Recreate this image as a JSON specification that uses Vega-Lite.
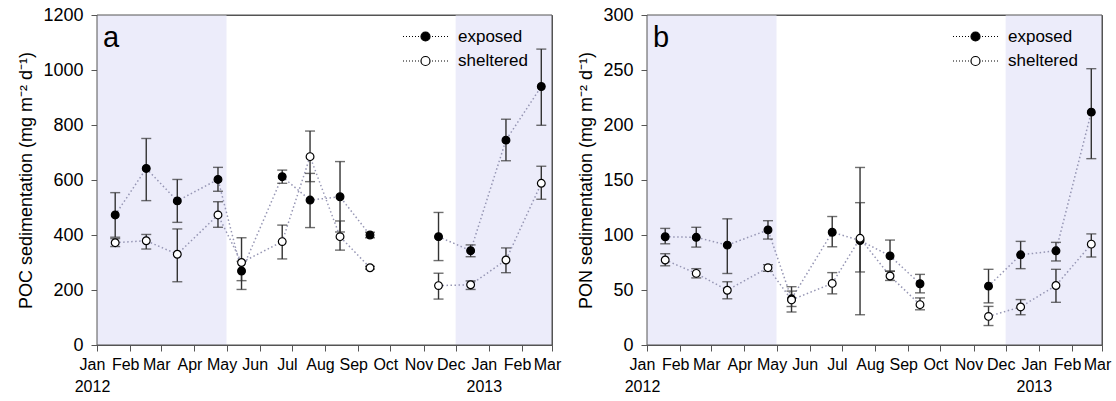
{
  "$schema": "https://vega.github.io/schema/vega-lite/v6.json",
  "padding": {"left": 17, "top": 5, "right": 0, "bottom": 0},
  "background": "white",
  "config": {
    "font": "Liberation Sans",
    "view": {"stroke": "#555555", "strokeWidth": 1},
    "axis": {"grid": false, "domainColor": "#555555", "tickColor": "#555555", "labelColor": "black", "titleColor": "black", "tickSize": 6, "domainWidth": 1, "tickWidth": 1},
    "title": {"font": "Liberation Sans", "color": "black", "fontWeight": "normal"}
  },
  "datasets": {
    "shade": [
      {"from": "2012-01-01", "to": "2012-05-01"},
      {"from": "2012-12-01", "to": "2013-03-01"}
    ],
    "frame": [{}],
    "pts": [
      {"panel": "a", "site": "exposed", "seg": 1, "date": "2012-01-18", "value": 473, "lo": 392, "hi": 554},
      {"panel": "a", "site": "exposed", "seg": 1, "date": "2012-02-16", "value": 642, "lo": 525, "hi": 751},
      {"panel": "a", "site": "exposed", "seg": 1, "date": "2012-03-16", "value": 524, "lo": 446, "hi": 602},
      {"panel": "a", "site": "exposed", "seg": 1, "date": "2012-04-23", "value": 602, "lo": 559, "hi": 646},
      {"panel": "a", "site": "exposed", "seg": 1, "date": "2012-05-15", "value": 269, "lo": 234, "hi": 304},
      {"panel": "a", "site": "exposed", "seg": 1, "date": "2012-06-22", "value": 612, "lo": 588, "hi": 636},
      {"panel": "a", "site": "exposed", "seg": 1, "date": "2012-07-18", "value": 527, "lo": 427, "hi": 624},
      {"panel": "a", "site": "exposed", "seg": 1, "date": "2012-08-15", "value": 539, "lo": 411, "hi": 667},
      {"panel": "a", "site": "exposed", "seg": 1, "date": "2012-09-12", "value": 400, "lo": 390, "hi": 410},
      {"panel": "a", "site": "exposed", "seg": 2, "date": "2012-11-15", "value": 394, "lo": 307, "hi": 482},
      {"panel": "a", "site": "exposed", "seg": 2, "date": "2012-12-15", "value": 343, "lo": 321, "hi": 364},
      {"panel": "a", "site": "exposed", "seg": 2, "date": "2013-01-17", "value": 745, "lo": 670, "hi": 821},
      {"panel": "a", "site": "exposed", "seg": 2, "date": "2013-02-19", "value": 940, "lo": 799, "hi": 1076},
      {"panel": "a", "site": "sheltered", "seg": 1, "date": "2012-01-18", "value": 372, "lo": 358, "hi": 387},
      {"panel": "a", "site": "sheltered", "seg": 1, "date": "2012-02-16", "value": 379, "lo": 349, "hi": 402},
      {"panel": "a", "site": "sheltered", "seg": 1, "date": "2012-03-16", "value": 330, "lo": 230, "hi": 422},
      {"panel": "a", "site": "sheltered", "seg": 1, "date": "2012-04-23", "value": 473, "lo": 428, "hi": 521},
      {"panel": "a", "site": "sheltered", "seg": 1, "date": "2012-05-15", "value": 300, "lo": 202, "hi": 390},
      {"panel": "a", "site": "sheltered", "seg": 1, "date": "2012-06-22", "value": 376, "lo": 313, "hi": 436},
      {"panel": "a", "site": "sheltered", "seg": 1, "date": "2012-07-18", "value": 685, "lo": 594, "hi": 778},
      {"panel": "a", "site": "sheltered", "seg": 1, "date": "2012-08-15", "value": 394, "lo": 345, "hi": 451},
      {"panel": "a", "site": "sheltered", "seg": 1, "date": "2012-09-12", "value": 281, "lo": 276, "hi": 286},
      {"panel": "a", "site": "sheltered", "seg": 2, "date": "2012-11-15", "value": 216, "lo": 167, "hi": 261},
      {"panel": "a", "site": "sheltered", "seg": 2, "date": "2012-12-15", "value": 219, "lo": 202, "hi": 233},
      {"panel": "a", "site": "sheltered", "seg": 2, "date": "2013-01-17", "value": 309, "lo": 263, "hi": 353},
      {"panel": "a", "site": "sheltered", "seg": 2, "date": "2013-02-19", "value": 588, "lo": 530, "hi": 650},
      {"panel": "b", "site": "exposed", "seg": 1, "date": "2012-01-18", "value": 98.4, "lo": 92, "hi": 106},
      {"panel": "b", "site": "exposed", "seg": 1, "date": "2012-02-16", "value": 97.9, "lo": 89, "hi": 107},
      {"panel": "b", "site": "exposed", "seg": 1, "date": "2012-03-16", "value": 90.8, "lo": 65, "hi": 114.7},
      {"panel": "b", "site": "exposed", "seg": 1, "date": "2012-04-23", "value": 104.6, "lo": 96.3, "hi": 113},
      {"panel": "b", "site": "exposed", "seg": 1, "date": "2012-05-15", "value": 42, "lo": 35, "hi": 49},
      {"panel": "b", "site": "exposed", "seg": 1, "date": "2012-06-22", "value": 102.5, "lo": 89.3, "hi": 116.8},
      {"panel": "b", "site": "exposed", "seg": 1, "date": "2012-07-18", "value": 95, "lo": 27.5, "hi": 161.4},
      {"panel": "b", "site": "exposed", "seg": 1, "date": "2012-08-15", "value": 81, "lo": 67, "hi": 95.4},
      {"panel": "b", "site": "exposed", "seg": 1, "date": "2012-09-12", "value": 55.7, "lo": 47.4, "hi": 64.2},
      {"panel": "b", "site": "exposed", "seg": 2, "date": "2012-11-15", "value": 53.5, "lo": 38.3, "hi": 68.8},
      {"panel": "b", "site": "exposed", "seg": 2, "date": "2012-12-15", "value": 82, "lo": 69.4, "hi": 94.2},
      {"panel": "b", "site": "exposed", "seg": 2, "date": "2013-01-17", "value": 85.6, "lo": 76.4, "hi": 93.3},
      {"panel": "b", "site": "exposed", "seg": 2, "date": "2013-02-19", "value": 211.7, "lo": 169.4, "hi": 251.2},
      {"panel": "b", "site": "sheltered", "seg": 1, "date": "2012-01-18", "value": 77.3, "lo": 72, "hi": 83},
      {"panel": "b", "site": "sheltered", "seg": 1, "date": "2012-02-16", "value": 65.1, "lo": 61, "hi": 69.4},
      {"panel": "b", "site": "sheltered", "seg": 1, "date": "2012-03-16", "value": 49.8, "lo": 42, "hi": 57.5},
      {"panel": "b", "site": "sheltered", "seg": 1, "date": "2012-04-23", "value": 70.3, "lo": 67, "hi": 73},
      {"panel": "b", "site": "sheltered", "seg": 1, "date": "2012-05-15", "value": 41, "lo": 30, "hi": 53},
      {"panel": "b", "site": "sheltered", "seg": 1, "date": "2012-06-22", "value": 56, "lo": 46.5, "hi": 65.8},
      {"panel": "b", "site": "sheltered", "seg": 1, "date": "2012-07-18", "value": 97, "lo": 66.4, "hi": 129.4},
      {"panel": "b", "site": "sheltered", "seg": 1, "date": "2012-08-15", "value": 62.7, "lo": 58.7, "hi": 67.2},
      {"panel": "b", "site": "sheltered", "seg": 1, "date": "2012-09-12", "value": 36.7, "lo": 32, "hi": 42.8},
      {"panel": "b", "site": "sheltered", "seg": 2, "date": "2012-11-15", "value": 26, "lo": 17.7, "hi": 35.1},
      {"panel": "b", "site": "sheltered", "seg": 2, "date": "2012-12-15", "value": 34.6, "lo": 27.5, "hi": 41.3},
      {"panel": "b", "site": "sheltered", "seg": 2, "date": "2013-01-17", "value": 54.1, "lo": 38.8, "hi": 68.8},
      {"panel": "b", "site": "sheltered", "seg": 2, "date": "2013-02-19", "value": 91.7, "lo": 80, "hi": 101}
    ]
  },
  "spacing": 95,
  "bounds": "flush",
  "resolve": {"legend": {"fill": "independent"}, "scale": {"y": "independent"}},
  "hconcat": [
    {
      "width": 455,
      "height": 330,
      "title": {"text": "a", "anchor": "start", "frame": "group", "orient": "top", "offset": -47, "dx": 6, "fontSize": 29},
      "layer": [
        {
          "data": {"name": "shade"},
          "mark": {"type": "rect", "color": "#ECECFA"},
          "encoding": {
            "x": {"field": "from", "type": "temporal", "scale": {"type": "utc", "domain": [{"year": 2012, "month": 1, "date": 1, "utc": true}, {"year": 2013, "month": 3, "date": 1, "utc": true}]},
              "axis": {"title": null, "tickCount": {"interval": "month", "step": 1}, "labelExpr": "utcmonth(datum.value) == 0 ? [utcFormat(datum.value, '%b'), utcFormat(datum.value, '%Y')] : utcFormat(datum.value, '%b')", "labelFlush": false, "labelOverlap": false, "labelFontSize": 16, "labelPadding": 5, "labelLineHeight": 22, "labelOffset": -5}},
            "x2": {"field": "to"}
          }
        },
        {
          "data": {"name": "pts"},
          "transform": [{"filter": "datum.panel == 'a'"}],
          "mark": {"type": "line", "color": "#9696B4", "strokeWidth": 1.5, "strokeDash": [1.5, 2.5]},
          "encoding": {
            "x": {"field": "date", "type": "temporal"},
            "y": {"field": "value", "type": "quantitative", "scale": {"domain": [0, 1200], "nice": false},
              "axis": {"title": "POC sedimentation (mg m⁻² d⁻¹)", "format": "d", "values": [0, 200, 400, 600, 800, 1000, 1200], "labelFontSize": 18, "titleFontSize": 18, "titleFontWeight": "normal", "labelPadding": 8, "titlePadding": 7}},
            "detail": [{"field": "site"}, {"field": "seg"}]
          }
        },
        {
          "data": {"name": "pts"},
          "transform": [{"filter": "datum.panel == 'a'"}],
          "mark": {"type": "rule", "color": "#333333", "strokeWidth": 1.4},
          "encoding": {"x": {"field": "date", "type": "temporal"}, "y": {"field": "lo", "type": "quantitative"}, "y2": {"field": "hi"}}
        },
        {
          "data": {"name": "pts"},
          "transform": [{"filter": "datum.panel == 'a'"}],
          "mark": {"type": "tick", "orient": "horizontal", "color": "#333333", "size": 10, "thickness": 1.4},
          "encoding": {"x": {"field": "date", "type": "temporal"}, "y": {"field": "lo", "type": "quantitative"}}
        },
        {
          "data": {"name": "pts"},
          "transform": [{"filter": "datum.panel == 'a'"}],
          "mark": {"type": "tick", "orient": "horizontal", "color": "#333333", "size": 10, "thickness": 1.4},
          "encoding": {"x": {"field": "date", "type": "temporal"}, "y": {"field": "hi", "type": "quantitative"}}
        },
        {
          "data": {"name": "pts"},
          "transform": [{"filter": "datum.panel == 'a'"}],
          "mark": {"type": "point", "shape": "circle", "filled": true, "stroke": "black", "strokeWidth": 1.2, "size": 60, "opacity": 1},
          "encoding": {
            "x": {"field": "date", "type": "temporal"},
            "y": {"field": "value", "type": "quantitative"},
            "fill": {"field": "site", "type": "nominal", "scale": {"domain": ["exposed", "sheltered"], "range": ["black", "white"]},
              "legend": {"title": null, "orient": "none", "legendX": 320, "legendY": 13, "padding": 0,
                "symbolType": "M 0.9 0 A 0.9 0.9 0 1 1 -0.9 0 A 0.9 0.9 0 1 1 0.9 0 Z M -4.5 0 L -4.3 0 M -3.9 0 L -3.7 0 M -3.3 0 L -3.1 0 M -2.7 0 L -2.5 0 M -2.1 0 L -1.9 0 M -1.5 0 L -1.3 0 M 1.3 0 L 1.5 0 M 1.9 0 L 2.1 0 M 2.5 0 L 2.7 0 M 3.1 0 L 3.3 0 M 3.7 0 L 3.9 0 M 4.3 0 L 4.5 0",
                "symbolSize": 100, "symbolStrokeColor": "black", "symbolStrokeWidth": 1.2, "symbolOpacity": 1,
                "labelFontSize": 17, "labelColor": "black", "labelOffset": 24, "rowPadding": 6.5}}
          }
        },
        {
          "data": {"name": "frame"},
          "mark": {"type": "rect", "fill": "white", "fillOpacity": 0, "stroke": "#555555", "strokeWidth": 1},
          "encoding": {}
        }
      ]
    },
    {
      "width": 455,
      "height": 330,
      "title": {"text": "b", "anchor": "start", "frame": "group", "orient": "top", "offset": -47, "dx": 6, "fontSize": 29},
      "layer": [
        {
          "data": {"name": "shade"},
          "mark": {"type": "rect", "color": "#ECECFA"},
          "encoding": {
            "x": {"field": "from", "type": "temporal", "scale": {"type": "utc", "domain": [{"year": 2012, "month": 1, "date": 1, "utc": true}, {"year": 2013, "month": 3, "date": 1, "utc": true}]},
              "axis": {"title": null, "tickCount": {"interval": "month", "step": 1}, "labelExpr": "utcmonth(datum.value) == 0 ? [utcFormat(datum.value, '%b'), utcFormat(datum.value, '%Y')] : utcFormat(datum.value, '%b')", "labelFlush": false, "labelOverlap": false, "labelFontSize": 16, "labelPadding": 5, "labelLineHeight": 22, "labelOffset": -5}},
            "x2": {"field": "to"}
          }
        },
        {
          "data": {"name": "pts"},
          "transform": [{"filter": "datum.panel == 'b'"}],
          "mark": {"type": "line", "color": "#9696B4", "strokeWidth": 1.5, "strokeDash": [1.5, 2.5]},
          "encoding": {
            "x": {"field": "date", "type": "temporal"},
            "y": {"field": "value", "type": "quantitative", "scale": {"domain": [0, 300], "nice": false},
              "axis": {"title": "PON sedimentation (mg m⁻² d⁻¹)", "format": "d", "values": [0, 50, 100, 150, 200, 250, 300], "labelFontSize": 18, "titleFontSize": 18, "titleFontWeight": "normal", "labelPadding": 8, "titlePadding": 7}},
            "detail": [{"field": "site"}, {"field": "seg"}]
          }
        },
        {
          "data": {"name": "pts"},
          "transform": [{"filter": "datum.panel == 'b'"}],
          "mark": {"type": "rule", "color": "#333333", "strokeWidth": 1.4},
          "encoding": {"x": {"field": "date", "type": "temporal"}, "y": {"field": "lo", "type": "quantitative"}, "y2": {"field": "hi"}}
        },
        {
          "data": {"name": "pts"},
          "transform": [{"filter": "datum.panel == 'b'"}],
          "mark": {"type": "tick", "orient": "horizontal", "color": "#333333", "size": 10, "thickness": 1.4},
          "encoding": {"x": {"field": "date", "type": "temporal"}, "y": {"field": "lo", "type": "quantitative"}}
        },
        {
          "data": {"name": "pts"},
          "transform": [{"filter": "datum.panel == 'b'"}],
          "mark": {"type": "tick", "orient": "horizontal", "color": "#333333", "size": 10, "thickness": 1.4},
          "encoding": {"x": {"field": "date", "type": "temporal"}, "y": {"field": "hi", "type": "quantitative"}}
        },
        {
          "data": {"name": "pts"},
          "transform": [{"filter": "datum.panel == 'b'"}],
          "mark": {"type": "point", "shape": "circle", "filled": true, "stroke": "black", "strokeWidth": 1.2, "size": 60, "opacity": 1},
          "encoding": {
            "x": {"field": "date", "type": "temporal"},
            "y": {"field": "value", "type": "quantitative"},
            "fill": {"field": "site", "type": "nominal", "scale": {"domain": ["exposed", "sheltered"], "range": ["black", "white"]},
              "legend": {"title": null, "orient": "none", "legendX": 320, "legendY": 13, "padding": 0,
                "symbolType": "M 0.9 0 A 0.9 0.9 0 1 1 -0.9 0 A 0.9 0.9 0 1 1 0.9 0 Z M -4.5 0 L -4.3 0 M -3.9 0 L -3.7 0 M -3.3 0 L -3.1 0 M -2.7 0 L -2.5 0 M -2.1 0 L -1.9 0 M -1.5 0 L -1.3 0 M 1.3 0 L 1.5 0 M 1.9 0 L 2.1 0 M 2.5 0 L 2.7 0 M 3.1 0 L 3.3 0 M 3.7 0 L 3.9 0 M 4.3 0 L 4.5 0",
                "symbolSize": 100, "symbolStrokeColor": "black", "symbolStrokeWidth": 1.2, "symbolOpacity": 1,
                "labelFontSize": 17, "labelColor": "black", "labelOffset": 24, "rowPadding": 6.5}}
          }
        },
        {
          "data": {"name": "frame"},
          "mark": {"type": "rect", "fill": "white", "fillOpacity": 0, "stroke": "#555555", "strokeWidth": 1},
          "encoding": {}
        }
      ]
    }
  ]
}
